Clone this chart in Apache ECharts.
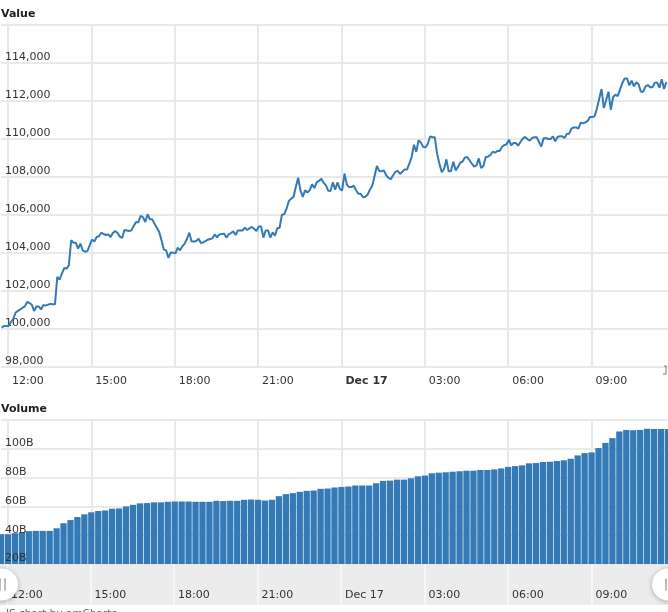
<!DOCTYPE html>
<html>
<head>
<meta charset="utf-8">
<style>
  html, body { margin: 0; padding: 0; background: #fff; }
  #chart { width: 668px; height: 612px; }
</style>
<script src="https://cdn.jsdelivr.net/npm/echarts@6/dist/echarts.min.js"></script>
</head>
<body>
<div id="chart"></div>
<script>
// price, one reading every 5 minutes
var priceValues = [
  100070,100160,100160,100160,100370,100540,100860,100950,101030,101120,
  101190,101420,101370,101280,100950,101180,101190,101030,101260,101230,
  101280,101320,101300,101300,102740,102600,102910,103210,103180,103350,
  104670,104540,104540,104230,104490,104140,104070,104100,104400,104700,
  104600,104840,104880,105070,105000,104950,104980,104840,105050,105160,
  105050,104860,104790,105210,105180,105160,105190,105420,105630,105610,
  105960,105880,105630,106040,105770,105770,105540,105330,105110,104670,
  104180,104140,103750,104020,104020,103980,104280,104140,104350,104490,
  104750,105070,104600,104610,104630,104750,104530,104560,104630,104700,
  104740,104770,104980,104820,104980,105000,105020,104810,104980,105050,
  105140,104950,105180,105180,105180,105330,105210,105300,105370,105280,
  105160,105400,105400,104810,105190,105190,104810,105090,104910,105300,
  105330,106020,106040,106330,106740,106860,106950,107470,107960,107300,
  106950,107300,107190,107300,107610,107420,107720,107790,107910,107700,
  107560,107280,107260,107720,107330,107720,107370,107300,108180,107610,
  107470,107470,107540,107300,107120,107120,106930,106960,107070,107330,
  107540,108050,108580,108320,108300,108350,108090,107960,107880,108090,
  108280,108320,108160,108280,108400,108390,108700,109050,109700,109320,
  109930,109810,109580,109560,109750,110140,110090,110090,109230,108700,
  108250,108420,108930,108300,108300,108810,108350,108530,108750,108810,
  109020,109050,108880,108700,108540,108610,108980,108470,108580,109050,
  109070,109160,109330,109280,109370,109370,109580,109680,109720,109960,
  109670,109790,109790,109650,109840,110020,110110,110000,109910,110050,
  110090,110090,109840,109600,110040,110050,110000,110000,110140,109880,
  110110,110140,110140,110050,110260,110280,110540,110610,110610,110540,
  110860,110820,110880,110950,111160,111160,111190,111600,112120,112630,
  111630,112040,112490,111540,112210,112330,112260,112610,112950,113190,
  113190,112820,113070,112770,112980,112880,112490,112490,112770,112840,
  112720,112720,112960,112980,112700,113140,112630,113000
];
// volume in billions, one bar every 15 minutes
var volumeValues = [
  40.7,40.7,41.4,42.1,42.8,43.0,43.0,43.0,44.8,48.3,50.5,52.6,54.5,55.9,56.8,57.2,
  58.4,58.6,60.0,61.1,62.1,62.3,62.8,62.8,63.2,63.4,63.4,63.4,63.2,63.2,63.2,63.9,
  63.7,63.9,63.9,64.6,64.8,64.6,64.1,64.6,67.1,68.5,69.2,70.1,70.8,71.0,72.2,72.4,
  73.1,73.5,73.8,74.5,74.5,74.5,76.1,77.7,77.9,78.6,78.6,79.5,80.9,81.4,83.0,83.4,
  83.7,84.1,84.4,84.8,84.8,85.3,85.3,85.7,86.4,87.4,88.0,88.5,89.9,90.1,90.8,91.0,
  91.5,92.0,93.1,95.4,97.0,97.5,100.5,104.1,107.4,112.0,113.1,112.9,113.1,114.0,113.8,113.8,113.8
];
var priceTicks = [98000, 100000, 102000, 104000, 106000, 108000, 110000, 112000, 114000, 116000];
var volumeTicks = [20, 40, 60, 80, 100, 120];

var MIN = 60 * 1000;
var HOUR = 60 * MIN;
var axisStart = new Date(2024, 11, 16, 11, 45).getTime();
var axisEnd = axisStart + 24 * HOUR;
var priceStart = axisStart + 90 * 1000;
var firstTick = new Date(2024, 11, 16, 12, 0).getTime();
var timeTicks = [0, 3, 6, 9, 12, 15, 18, 21].map(function (h) { return firstTick + h * HOUR; });

var priceData = priceValues.map(function (v, i) { return [priceStart + i * 5 * MIN, v]; });
var volumeData = volumeValues.map(function (v, i) { return [axisStart + i * 15 * MIN, v]; });

var FONT = '"DejaVu Sans", Verdana, sans-serif';
var TEXT = '#333333';
var BLUE = '#337ab7';
var GRID_LINE = '#e9e9e9';

function two(n) { return (n < 10 ? '0' : '') + n; }

function timeLabel(boldDay) {
  return function (value) {
    var d = new Date(value);
    if (d.getHours() === 0 && d.getMinutes() === 0) {
      return boldDay ? '{day|Dec 17}' : 'Dec 17';
    }
    return two(d.getHours()) + ':' + two(d.getMinutes());
  };
}

// plain value axis holding timestamps, the 3 hour ticks do not start at min
function timeAxis(gridIndex, extra) {
  var axis = {
    type: 'value',
    gridIndex: gridIndex,
    min: axisStart,
    max: axisEnd,
    axisLine: { show: false },
    axisTick: { show: false, customValues: timeTicks },
    splitLine: { show: true, lineStyle: { color: GRID_LINE, width: 2 } },
    axisLabel: { show: false, customValues: timeTicks }
  };
  return Object.assign(axis, extra);
}

var myChart = echarts.init(document.getElementById('chart'), null, { renderer: 'canvas' });

myChart.setOption({
  animation: false,
  textStyle: { fontFamily: FONT },
  title: [
    { text: 'Value', left: 1, top: 9, padding: 0, textStyle: { fontFamily: FONT, fontSize: 11, fontWeight: 'bold', color: '#222' } },
    { text: 'Volume', left: 1, top: 404, padding: 0, textStyle: { fontFamily: FONT, fontSize: 11, fontWeight: 'bold', color: '#222' } },
    { text: 'JS chart by amCharts', left: 6, top: 609, padding: 0, textStyle: { fontFamily: FONT, fontSize: 10.5, fontWeight: 'normal', color: '#666' } }
  ],
  grid: [
    { left: 1, right: 0, top: 25, height: 342 },
    { left: 1, right: 0, top: 420, height: 144 },
    { left: 0, right: 0, top: 564, height: 41, show: true, backgroundColor: '#ececec', borderWidth: 0 }
  ],
  xAxis: [
    timeAxis(0, {
      axisLabel: {
        show: true, customValues: timeTicks, align: 'left', margin: 9, padding: [0, 0, 0, 4], fontFamily: FONT, fontSize: 11, color: TEXT,
        hideOverlap: false,
        formatter: timeLabel(true),
        rich: { day: { fontFamily: FONT, fontSize: 11, fontWeight: 'bold', color: TEXT } }
      }
    }),
    timeAxis(1),
    timeAxis(2, {
      splitLine: { show: true, lineStyle: { color: '#f6f6f6', width: 2 } },
      axisLabel: {
        show: true, customValues: timeTicks, inside: true, align: 'left', margin: 4, padding: [0, 0, 0, 4], fontFamily: FONT, fontSize: 11, color: TEXT,
        hideOverlap: false,
        formatter: timeLabel(false)
      }
    })
  ],
  yAxis: [
    {
      type: 'value', gridIndex: 0, min: priceTicks[0], max: priceTicks[priceTicks.length - 1], interval: 2000,
      axisLine: { show: false }, axisTick: { show: false },
      splitLine: { lineStyle: { color: GRID_LINE, width: 2 } },
      axisLabel: {
        inside: true, margin: 4, verticalAlign: 'bottom', showMaxLabel: false, fontFamily: FONT, fontSize: 11, color: TEXT,
        formatter: function (v) { return v.toLocaleString('en-US'); }
      }
    },
    {
      type: 'value', gridIndex: 1, min: volumeTicks[0], max: volumeTicks[volumeTicks.length - 1], interval: 20,
      axisLine: { show: false }, axisTick: { show: false },
      splitLine: { lineStyle: { color: GRID_LINE, width: 2 } },
      axisLabel: { show: false }
    },
    {
      // second volume axis only carries the labels, so they sit over the bars
      type: 'value', gridIndex: 1, position: 'left', z: 10, min: volumeTicks[0], max: volumeTicks[volumeTicks.length - 1], interval: 20,
      axisLine: { show: false }, axisTick: { show: false }, splitLine: { show: false },
      axisLabel: {
        inside: true, margin: 4, verticalAlign: 'bottom', showMaxLabel: false, fontFamily: FONT, fontSize: 11, color: TEXT,
        formatter: function (v) { return v + 'B'; }
      }
    },
    { type: 'value', gridIndex: 2, show: false, min: 0, max: 1 }
  ],
  dataZoom: [
    {
      type: 'slider', xAxisIndex: [0, 1, 2], filterMode: 'none', start: 0, end: 100,
      left: 0, right: 0, top: 564, height: 41,
      backgroundColor: 'transparent', borderColor: 'transparent', fillerColor: 'transparent',
      showDataShadow: false, showDetail: false, brushSelect: false, moveHandleSize: 0,
      handleIcon: 'path://M0,16 A16,16 0 1,1 32,16 A16,16 0 1,1 0,16 Z M13,10 L13,22 L15,22 L15,10 Z M18,10 L18,22 L20,22 L20,10 Z',
      handleSize: 32,
      handleStyle: { color: '#fff', borderWidth: 0, shadowBlur: 5, shadowColor: 'rgba(0,0,0,0.3)', shadowOffsetY: 1 }
    }
  ],
  series: [
    {
      name: 'Value', type: 'line', xAxisIndex: 0, yAxisIndex: 0, data: priceData,
      showSymbol: false, symbol: 'none',
      lineStyle: { color: BLUE, width: 2 }
    },
    {
      name: 'Volume', type: 'bar', xAxisIndex: 1, yAxisIndex: 1, data: volumeData,
      barWidth: 6.3,
      itemStyle: { color: BLUE }
    }
  ],
  graphic: [
    { type: 'polyline', z: 20, shape: { points: [[663, 374], [666, 374], [666, 366], [664, 366]] }, style: { stroke: '#777', fill: 'none', lineWidth: 1 } }
  ]
});
</script>
</body>
</html>
